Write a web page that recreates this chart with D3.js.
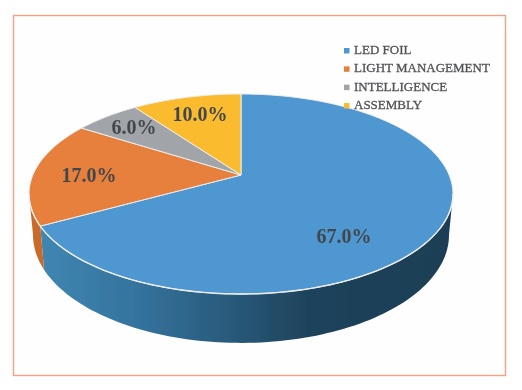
<!DOCTYPE html>
<html>
<head>
<meta charset="utf-8">
<script src="https://cdn.jsdelivr.net/npm/d3@7"></script>
<style>
  html, body { margin: 0; padding: 0; background: #fff; }
  svg { display: block; }
</style>
</head>
<body>
<div id="chart"></div>
<script>
const categories = ["LED FOIL", "LIGHT MANAGEMENT", "INTELLIGENCE", "ASSEMBLY"];
const shares = [67, 17, 6, 10];
const sliceColors = ["#5097d1", "#e8803c", "#a1a4a8", "#fbbb2e"];
const sideColors = ["#33719a", "#c96a2c", "#85888c", "#cf9a26"];

const width = 522;
const height = 390;

// the pie is tilted with perspective: the centre sits above the middle of the ellipse
const tilt = 0.19;
const topDisc = { cx: 241, cy: 175, rx: 208.1, ry: 96.4 };
const lowDisc = { cx: 241, cy: 214.5, rx: 204.2, ry: 104 };
const silhouette = Math.acos(-tilt);

// label anchors in page pixels, same order as categories
const labelPos = [[344, 243], [89, 182], [134, 134], [200, 121]];

function project(angle, disc) {
  const w = 1 + tilt * Math.cos(angle);
  return [
    disc.cx + disc.rx * Math.sin(angle) / w,
    disc.cy - disc.ry * Math.cos(angle) / w
  ];
}

function edge(a0, a1, disc) {
  const n = Math.max(2, Math.ceil(Math.abs(a1 - a0) * 40));
  return d3.range(n + 1).map(i => project(a0 + (a1 - a0) * i / n, disc));
}

const line = d3.line();
const color = d3.scaleOrdinal().domain(categories).range(sliceColors);
const sideColor = d3.scaleOrdinal().domain(categories).range(sideColors);

const arcs = d3.pie().sort(null).value(d => d.share)(
  categories.map((name, i) => ({ name: name, share: shares[i] }))
);

const svg = d3.select("#chart").append("svg")
  .attr("width", width)
  .attr("height", height);

const defs = svg.append("defs");
defs.append("filter").attr("id", "soft")
  .attr("x", "-5%").attr("y", "-5%").attr("width", "110%").attr("height", "110%")
  .append("feGaussianBlur").attr("stdDeviation", 0.55);

const sideX = d3.scaleLinear().domain([0, 1]).range([40, 450]);
const grad = defs.append("linearGradient").attr("id", "sideGrad")
  .attr("gradientUnits", "userSpaceOnUse")
  .attr("x1", sideX(0)).attr("x2", sideX(1)).attr("y1", 0).attr("y2", 0);
[[0, "#3f87b2"], [0.25, "#33729c"], [0.48, "#285878"], [0.65, "#1f435c"], [1, "#1c3e55"]]
  .forEach(s => grad.append("stop").attr("offset", s[0]).attr("stop-color", s[1]));

svg.append("rect")
  .attr("x", 13.5).attr("y", 15.5)
  .attr("width", 492).attr("height", 360)
  .attr("fill", "#fefefe")
  .attr("stroke", "#f5a184")
  .attr("stroke-width", 1.4);

const pie = svg.append("g").attr("filter", "url(#soft)");

// side wall, only the part of each slice facing the viewer
arcs.forEach((d, i) => {
  const a0 = Math.max(d.startAngle, silhouette);
  const a1 = Math.min(d.endAngle, 2 * Math.PI - silhouette);
  if (a1 <= a0) return;
  const pts = edge(a0, a1, topDisc).concat(edge(a1, a0, lowDisc));
  pie.append("path")
    .attr("d", line(pts) + "Z")
    .attr("fill", i === 0 ? "url(#sideGrad)" : sideColor(d.data.name));
});

// top face
pie.selectAll(".slice")
  .data(arcs)
  .enter().append("path")
  .attr("class", "slice")
  .attr("d", d => line([[topDisc.cx, topDisc.cy]].concat(edge(d.startAngle, d.endAngle, topDisc))) + "Z")
  .attr("fill", d => color(d.data.name))
  .attr("stroke", "#ececec")
  .attr("stroke-width", 1)
  .attr("stroke-linejoin", "round");

// bright seam on the front rim
pie.append("path")
  .attr("d", line(edge(silhouette, 2 * Math.PI - silhouette, topDisc)))
  .attr("fill", "none")
  .attr("stroke", "#eeeeee")
  .attr("stroke-width", 1.4);

const fmt = d3.format(".1f");
svg.append("g").attr("filter", "url(#soft)")
  .selectAll("text")
  .data(arcs)
  .enter().append("text")
  .attr("x", (d, i) => labelPos[i][0])
  .attr("y", (d, i) => labelPos[i][1])
  .attr("text-anchor", "middle")
  .attr("font-family", "'Liberation Serif', serif")
  .attr("font-weight", "bold")
  .attr("font-size", 20)
  .attr("fill", "#42474c")
  .text(d => fmt(d.data.share) + "%");

const legendY = d3.scalePoint().domain(categories).range([54, 109]);
const legend = svg.append("g").attr("filter", "url(#soft)");
legend.selectAll("rect")
  .data(categories)
  .enter().append("rect")
  .attr("x", 344)
  .attr("y", d => legendY(d) - 6)
  .attr("width", 5.5)
  .attr("height", 5.5)
  .attr("fill", d => color(d));
legend.selectAll("text")
  .data(categories)
  .enter().append("text")
  .attr("x", 354)
  .attr("y", d => legendY(d))
  .attr("font-family", "'Liberation Serif', serif")
  .attr("font-size", 13)
  .attr("fill", "#505356")
  .attr("stroke", "#505356")
  .attr("stroke-width", 0.3)
  .text(d => d);
</script>
</body>
</html>
